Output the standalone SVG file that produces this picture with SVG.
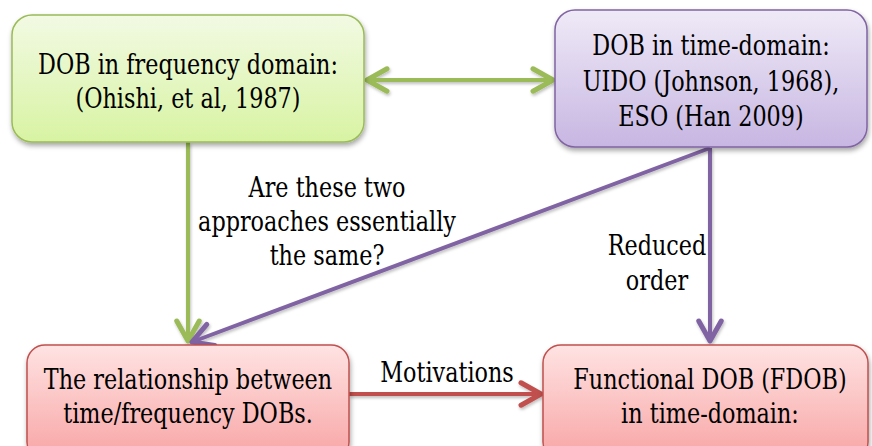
<svg xmlns="http://www.w3.org/2000/svg" width="872" height="446" viewBox="0 0 872 446">
  <defs>
    <linearGradient id="gGreen" x1="0" y1="0" x2="0" y2="1">
      <stop offset="0" stop-color="#f2fae3"/>
      <stop offset="1" stop-color="#d8f3a3"/>
    </linearGradient>
    <linearGradient id="gPurple" x1="0" y1="0" x2="0" y2="1">
      <stop offset="0" stop-color="#efeaf7"/>
      <stop offset="1" stop-color="#c7b6e2"/>
    </linearGradient>
    <linearGradient id="gRed" x1="0" y1="0" x2="0" y2="1">
      <stop offset="0" stop-color="#ffe3e3"/>
      <stop offset="1" stop-color="#f8a4a4"/>
    </linearGradient>
    <filter id="shadow" x="-10%" y="-10%" width="120%" height="130%">
      <feDropShadow dx="1" dy="3" stdDeviation="2.5" flood-color="#000" flood-opacity="0.35"/>
    </filter>
    <filter id="lineShadow" filterUnits="userSpaceOnUse" x="0" y="0" width="872" height="446">
      <feDropShadow dx="1" dy="2" stdDeviation="1.5" flood-color="#000" flood-opacity="0.25"/>
    </filter>
    <marker id="arrowGreen" markerUnits="userSpaceOnUse" markerWidth="30" markerHeight="30" viewBox="-20 -12 24 24" refX="0" refY="0" orient="auto-start-reverse" overflow="visible">
      <path d="M -16 -9 L 0 0 L -16 9" fill="none" stroke="#9bbb59" stroke-width="4" stroke-linecap="round" stroke-linejoin="round"/>
    </marker>
    <marker id="arrowPurple" markerUnits="userSpaceOnUse" markerWidth="30" markerHeight="30" viewBox="-20 -12 24 24" refX="0" refY="0" orient="auto" overflow="visible">
      <path d="M -16 -9 L 0 0 L -16 9" fill="none" stroke="#8064a2" stroke-width="4" stroke-linecap="round" stroke-linejoin="round"/>
    </marker>
    <marker id="arrowRed" markerUnits="userSpaceOnUse" markerWidth="30" markerHeight="30" viewBox="-20 -12 24 24" refX="0" refY="0" orient="auto" overflow="visible">
      <path d="M -16 -9 L 0 0 L -16 9" fill="none" stroke="#c0504d" stroke-width="4" stroke-linecap="round" stroke-linejoin="round"/>
    </marker>
  </defs>
  <style>
    .box { stroke-width: 1.5; filter: url(#shadow); }
    .green { fill: url(#gGreen); stroke: #9bbb59; }
    .purple { fill: url(#gPurple); stroke: #8064a2; }
    .red { fill: url(#gRed); stroke: #c0504d; }
    .t { font-family: 'DejaVu Serif', serif; font-size: 24px; fill: #000; text-anchor: middle; }
    .conn { fill: none; stroke-width: 4; filter: url(#lineShadow); }
  </style>

  <rect width="872" height="446" fill="#ffffff"/>

  <!-- connectors -->
  <g id="connectors">
    <line class="conn" x1="367" y1="80" x2="553" y2="80" stroke="#9bbb59" marker-start="url(#arrowGreen)" marker-end="url(#arrowGreen)"/>
    <line class="conn" x1="188" y1="142" x2="188" y2="341" stroke="#9bbb59" marker-end="url(#arrowGreen)"/>
    <line class="conn" x1="710" y1="148" x2="192" y2="342" stroke="#8064a2" marker-end="url(#arrowPurple)"/>
    <line class="conn" x1="710" y1="148" x2="710" y2="341" stroke="#8064a2" marker-end="url(#arrowPurple)"/>
    <line class="conn" x1="349" y1="394" x2="541" y2="394" stroke="#c0504d" marker-end="url(#arrowRed)"/>
  </g>

  <!-- connector labels (glyphs narrowed and heightened slightly) -->
  <g id="labels">
    <text class="t" transform="matrix(0.93 0 0 1.16 327 197)">Are these two</text>
    <text class="t" transform="matrix(0.93 0 0 1.16 327 231)">approaches essentially</text>
    <text class="t" transform="matrix(0.93 0 0 1.16 327 265)">the same?</text>
    <text class="t" transform="matrix(0.93 0 0 1.16 657 255)">Reduced</text>
    <text class="t" transform="matrix(0.93 0 0 1.16 657 290)">order</text>
    <text class="t" transform="matrix(0.93 0 0 1.16 447 382)">Motivations</text>
  </g>

  <!-- frequency-domain DOB -->
  <g id="node-freq">
    <rect class="box green" x="12" y="15" width="352" height="127" rx="20"/>
    <text class="t" transform="matrix(0.93 0 0 1.16 188 74)">DOB in frequency domain:</text>
    <text class="t" transform="matrix(0.93 0 0 1.16 188 108)">(Ohishi, et al, 1987)</text>
  </g>

  <!-- time-domain DOB -->
  <g id="node-time">
    <rect class="box purple" x="555" y="10" width="312" height="137" rx="20"/>
    <text class="t" transform="matrix(0.93 0 0 1.16 711 55)">DOB in time-domain:</text>
    <text class="t" transform="matrix(0.93 0 0 1.16 711 91)">UIDO (Johnson, 1968),</text>
    <text class="t" transform="matrix(0.93 0 0 1.16 711 126)">ESO (Han 2009)</text>
  </g>

  <!-- relationship between time/frequency DOBs -->
  <g id="node-relation">
    <rect class="box red" x="27" y="345" width="322" height="115" rx="18"/>
    <text class="t" transform="matrix(0.93 0 0 1.16 188 389)">The relationship between</text>
    <text class="t" transform="matrix(0.93 0 0 1.16 188 423)">time/frequency DOBs.</text>
  </g>

  <!-- functional DOB -->
  <g id="node-fdob">
    <rect class="box red" x="543" y="345" width="325" height="115" rx="18"/>
    <text class="t" transform="matrix(0.93 0 0 1.16 710 389)">Functional DOB (FDOB)</text>
    <text class="t" transform="matrix(0.93 0 0 1.16 710 423)">in time-domain:</text>
  </g>
</svg>
